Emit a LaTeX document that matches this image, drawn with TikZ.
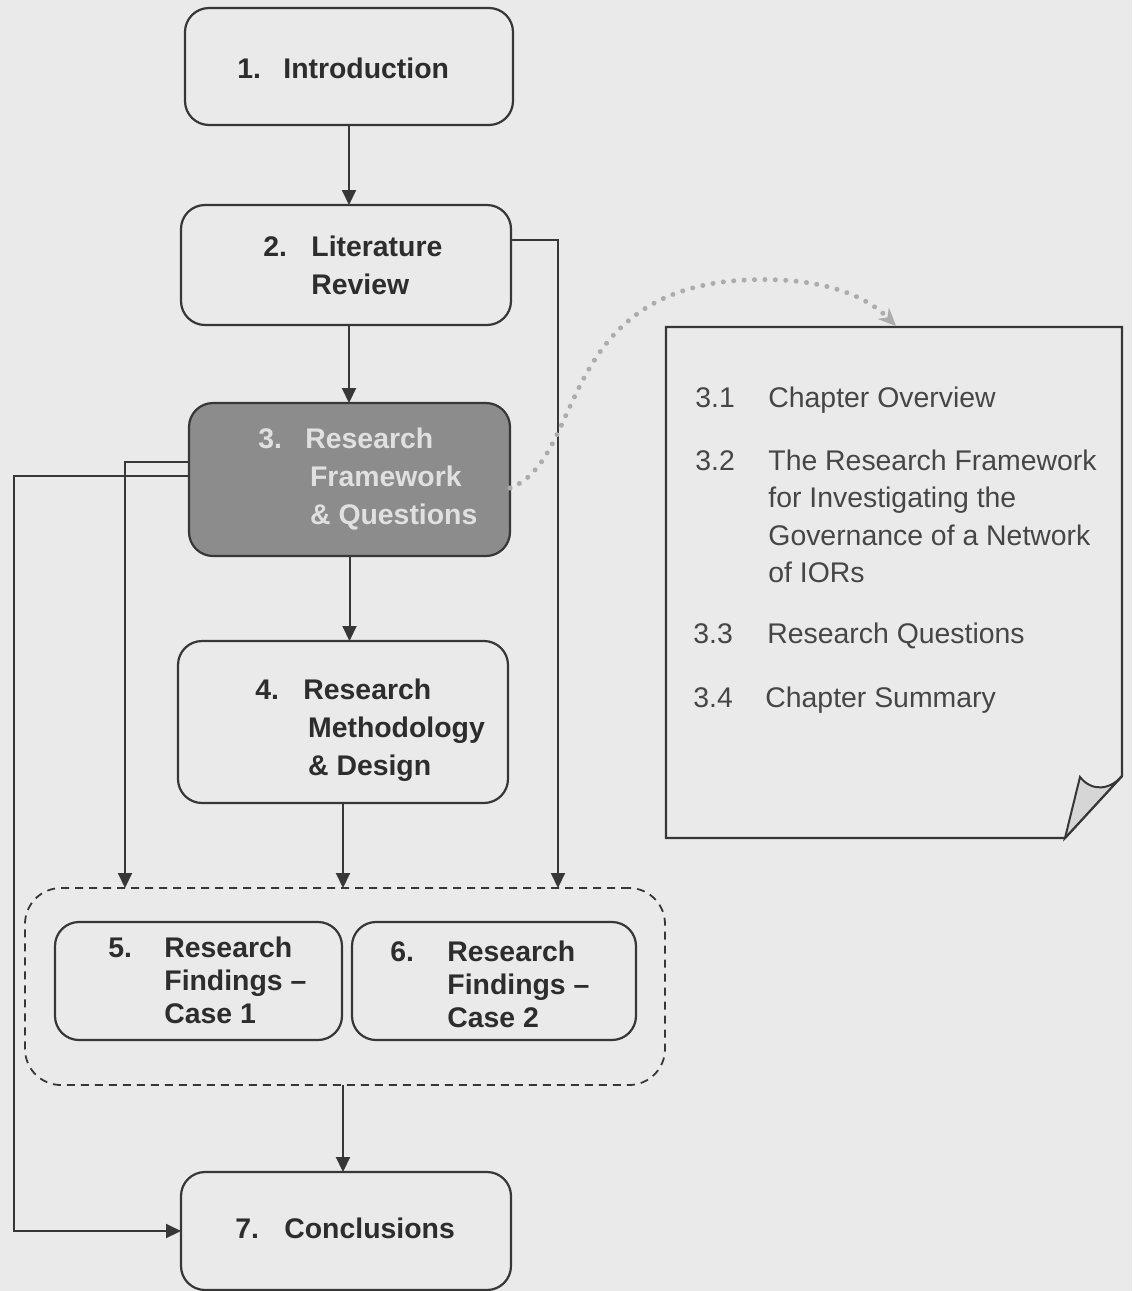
\documentclass[tikz,border=0pt]{standalone}
\usepackage{fontspec}
\setmainfont{Liberation Sans}
\usetikzlibrary{arrows.meta,calc}

\definecolor{paper}{RGB}{234,234,234}
\definecolor{ink}{RGB}{55,55,55}
\definecolor{boxink}{RGB}{45,45,45}
\definecolor{shade}{RGB}{140,140,140}
\definecolor{shadetext}{RGB}{224,224,224}
\definecolor{dots}{RGB}{172,172,172}
\definecolor{curl}{RGB}{214,214,214}
\definecolor{notetextcol}{RGB}{70,70,70}

\tikzset{
  chapbox/.style={draw=ink, line width=1.1pt, rounded corners=12pt, inner sep=0pt, outer sep=0pt},
  grpbox/.style={draw=ink, line width=0.9pt, dash pattern=on 4pt off 3pt, rounded corners=18pt, inner sep=0pt, outer sep=0pt},
  flow/.style={draw=ink, line width=1pt, -{Triangle[length=7.5pt,width=7pt]}},
  chaptext/.style={anchor=base west, inner sep=0pt, text=boxink,
    font=\bfseries\fontsize{14.2pt}{19pt}\selectfont},
  casetext/.style={chaptext, font=\bfseries\fontsize{14.2pt}{16.5pt}\selectfont},
  notetext/.style={anchor=base west, inner sep=0pt, text=notetextcol,
    font=\fontsize{14.2pt}{18.75pt}\selectfont},
  notepen/.style={draw=ink, line width=1.2pt, line join=miter},
  dotlink/.style={draw=dots, line width=2.5pt, line cap=round, dash pattern=on 0.01pt off 5.2pt,
    -{Stealth[length=9pt,width=8pt,fill=dots,line width=0.4pt]}}
}

\begin{document}
\begin{tikzpicture}[x=0.5pt,y=-0.5pt]
  % page
  \fill[paper] (0,0) rectangle (1132,1291);
  \useasboundingbox (0,0) rectangle (1132,1291);

  % chapter boxes
  \node[chapbox, minimum width=164pt,   minimum height=58.5pt] (b1) at (349,66.5) {};
  \node[chapbox, minimum width=165pt,   minimum height=60pt]   (b2) at (346,265) {};
  \node[chapbox, fill=shade, minimum width=160.5pt, minimum height=76.5pt] (b3) at (349.5,479.5) {};
  \node[chapbox, minimum width=165pt,   minimum height=81pt]   (b4) at (343,722) {};
  \node[grpbox,  minimum width=320pt,   minimum height=98.5pt] (grp) at (345,986.5) {};
  \node[chapbox, minimum width=143.5pt, minimum height=59pt]   (b5) at (198.5,981) {};
  \node[chapbox, minimum width=142pt,   minimum height=59pt]   (b6) at (494,981) {};
  \node[chapbox, minimum width=165pt,   minimum height=59pt]   (b7) at (346,1231) {};

  % chapter titles
  \node[chaptext] (t1) at (237,78)
    {\begin{tabular}[t]{@{}p{23pt}@{}l@{}}1. & Introduction\end{tabular}};
  \node[chaptext] (t2) at (263,256)
    {\begin{tabular}[t]{@{}p{24pt}@{}l@{}}2. & Literature\\ & Review\end{tabular}};
  \node[chaptext, text=shadetext] (t3) at (258,448)
    {\begin{tabular}[t]{@{}p{23.5pt}@{}l@{}}3. & Research\\ & \,Framework\\ & \,\& Questions\end{tabular}};
  \node[chaptext] (t4) at (255,699)
    {\begin{tabular}[t]{@{}p{24pt}@{}l@{}}4. & Research\\ & \,Methodology\\ & \,\& Design\end{tabular}};
  \node[casetext] (t5) at (108,957)
    {\begin{tabular}[t]{@{}p{28pt}@{}l@{}}5. & Research\\ & Findings --\\ & Case 1\end{tabular}};
  \node[casetext] (t6) at (390,961)
    {\begin{tabular}[t]{@{}p{28.5pt}@{}l@{}}6. & Research\\ & Findings --\\ & Case 2\end{tabular}};
  \node[chaptext] (t7) at (235,1238)
    {\begin{tabular}[t]{@{}p{24.5pt}@{}l@{}}7. & Conclusions\end{tabular}};

  % main flow
  \draw[flow] (b1.south) -- (b1.south |- b2.north);
  \draw[flow] (b2.south -| b1.south) -- (b1.south |- b3.north);
  \draw[flow] (b3.south) -- (b3.south |- b4.north);
  \draw[flow] (b4.south) -- (b4.south |- grp.north);
  \draw[flow] (b4.south |- grp.south) -- (b4.south |- b7.north);

  % side routes
  \coordinate (rx) at (558,0);
  \coordinate (lx) at (125,0);
  \coordinate (fx) at (14,0);
  \draw[flow] ([yshift=12.5pt]b2.east) -| (rx |- grp.north);
  \draw[flow] ([yshift=8.75pt]b3.west) -| (lx |- grp.north);
  \draw[flow] ([yshift=1.75pt]b3.west) -| (fx |- b7.west) -- (b7.west);

  % chapter contents sheet with curled corner
  \draw[notepen, fill=paper] (666,327) -- (1122,327) -- (1122,776) -- (1065,838) -- (666,838) -- cycle;
  \draw[notepen, line width=1pt, fill=curl] (1065,838) -- (1080,777)
    .. controls (1092,792) and (1110,790) .. (1122,776) -- cycle;
  \coordinate (notetop) at (896,326);

  % dotted link from chapter 3 to its contents
  \draw[dotlink] ([yshift=-4.25pt]b3.east) .. controls (585,460) and (555,290) .. (745,280)
    .. controls (830,276) and (870,300) .. (notetop);

  % contents entries
  \node[notetext] (n1) at (695,407) {3.1};
  \node[notetext] (e1) at (768,407) {Chapter Overview};
  \node[notetext] (n2) at (695,470) {3.2};
  \node[notetext] (e2) at (768,470)
    {\begin{tabular}[t]{@{}l@{}}The Research Framework\\ for Investigating the\\ Governance of a Network\\ of IORs\end{tabular}};
  \node[notetext] (n3) at (693,643) {3.3};
  \node[notetext] (e3) at (767,643) {Research Questions};
  \node[notetext] (n4) at (693,707) {3.4};
  \node[notetext] (e4) at (765,707) {Chapter Summary};
\end{tikzpicture}
\end{document}
